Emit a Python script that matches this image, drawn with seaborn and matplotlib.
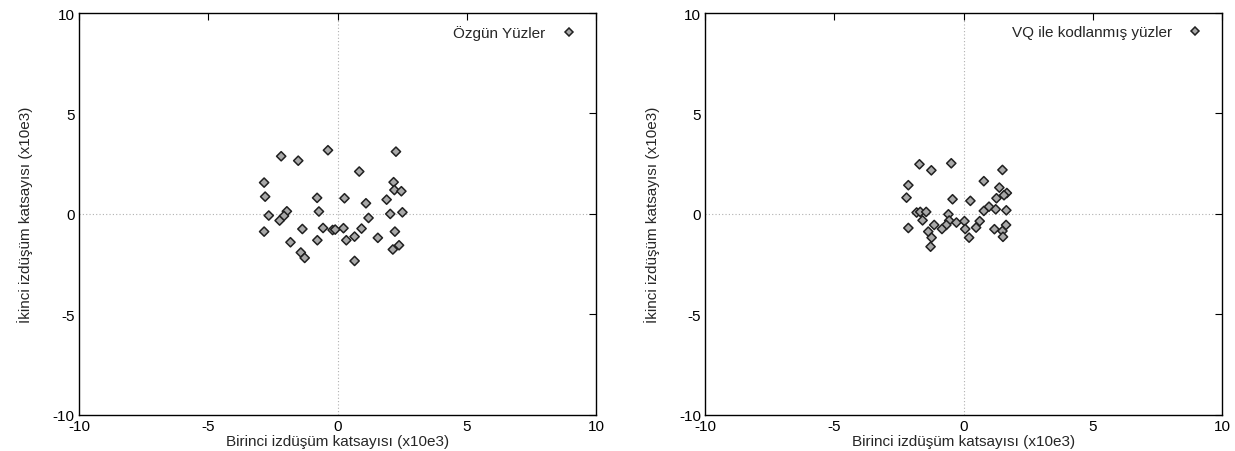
import numpy as np
import pandas as pd
import matplotlib
matplotlib.use("Agg")
import matplotlib.pyplot as plt
import seaborn as sns

# Özgün yüzler (x10e3)
orig_x = [-2.18, -1.52, -0.37, 2.26, 0.84, -2.84, 2.17, 2.20, 2.47, -2.80,
          -0.79, 0.27, 1.10, 1.90, -2.66, -1.96, -2.07, -2.24, -0.72, 2.04,
          2.51, 1.20, -2.84, -1.36, -0.56, -0.19, -0.09, 0.23, 0.93, -1.82,
          -0.78, 0.34, 0.66, 1.56, 2.22, -1.42, -1.27, 0.66, 2.14, 2.38]
orig_y = [2.87, 2.65, 3.17, 3.10, 2.11, 1.56, 1.58, 1.19, 1.13, 0.86,
          0.80, 0.78, 0.53, 0.71, -0.08, 0.13, -0.10, -0.33, 0.12, 0.00,
          0.08, -0.20, -0.88, -0.75, -0.70, -0.80, -0.78, -0.71, -0.73, -1.41,
          -1.31, -1.31, -1.13, -1.19, -0.88, -1.92, -2.19, -2.34, -1.77, -1.56]

# VQ ile kodlanmış yüzler (x10e3)
vq_x = [-1.71, -1.25, -0.48, 1.50, -2.14, 0.78, 1.38, 1.67, 1.56, 1.27,
        -2.21, -0.43, 0.26, 0.78, 0.98, 1.24, 1.65, -1.82, -1.68, -1.45,
        -1.59, -0.59, -0.56, -1.14, -0.28, 0.03, 0.62, -0.67, -0.84, -2.14,
        0.06, 0.48, -1.37, -1.24, -1.28, 0.21, 1.19, 1.50, 1.64, 1.52]
vq_y = [2.47, 2.17, 2.52, 2.19, 1.43, 1.63, 1.31, 1.04, 0.93, 0.78,
        0.81, 0.73, 0.65, 0.15, 0.36, 0.23, 0.18, 0.07, 0.10, 0.10,
        -0.32, -0.02, -0.33, -0.55, -0.43, -0.36, -0.36, -0.55, -0.75, -0.70,
        -0.75, -0.68, -0.88, -1.18, -1.63, -1.18, -0.76, -0.85, -0.55, -1.14]

ticks = [-10, -5, 0, 5, 10]
xlabel = "Birinci izdüşüm katsayısı (x10e3)"
ylabel = "İkinci izdüşüm katsayısı (x10e3)"

sns.set_style("white")
plt.rcParams['font.family'] = ['Liberation Sans', 'DejaVu Sans']
plt.rcParams['font.size'] = 11
plt.rcParams['axes.unicode_minus'] = False

fig = plt.figure(figsize=(12.35, 4.52), dpi=100)
ax1 = fig.add_axes([0.064, 0.080, 0.4186, 0.889])
ax2 = fig.add_axes([0.571, 0.080, 0.4186, 0.889])

panels = [(ax1, orig_x, orig_y, "Özgün Yüzler"),
          (ax2, vq_x, vq_y, "VQ ile kodlanmış yüzler")]

for ax, xs, ys, name in panels:
    df = pd.DataFrame({"x": xs, "y": ys, "seri": name})
    ax.axhline(0, color="#b0b0b0", ls=(0, (1, 2)), lw=0.8, zorder=0)
    ax.axvline(0, color="#b0b0b0", ls=(0, (1, 2)), lw=0.8, zorder=0)
    sns.scatterplot(data=df, x="x", y="y", hue="seri", palette=["#a8a8a8"],
                    marker="D", s=22, edgecolor="#202020", linewidth=1.1,
                    ax=ax, zorder=3)
    ax.set_xlim(-10, 10)
    ax.set_ylim(-10, 10)
    ax.set_xticks(ticks)
    ax.set_yticks(ticks)
    ax.tick_params(direction="in", top=True, right=True, length=5,
                   width=0.8, colors="black", labelsize=11, pad=3)
    for sp in ax.spines.values():
        sp.set_color("black")
        sp.set_linewidth(1.0)
    ax.set_xlabel(xlabel, labelpad=1)
    ax.set_ylabel(ylabel, labelpad=14)
    leg = ax.legend(loc="upper right", frameon=False, markerfirst=False,
                    handletextpad=0.5, borderaxespad=0.4, fontsize=11)
    for h in leg.legend_handles:
        h.set_markersize(4)

fig.savefig("out.png", dpi=100)
